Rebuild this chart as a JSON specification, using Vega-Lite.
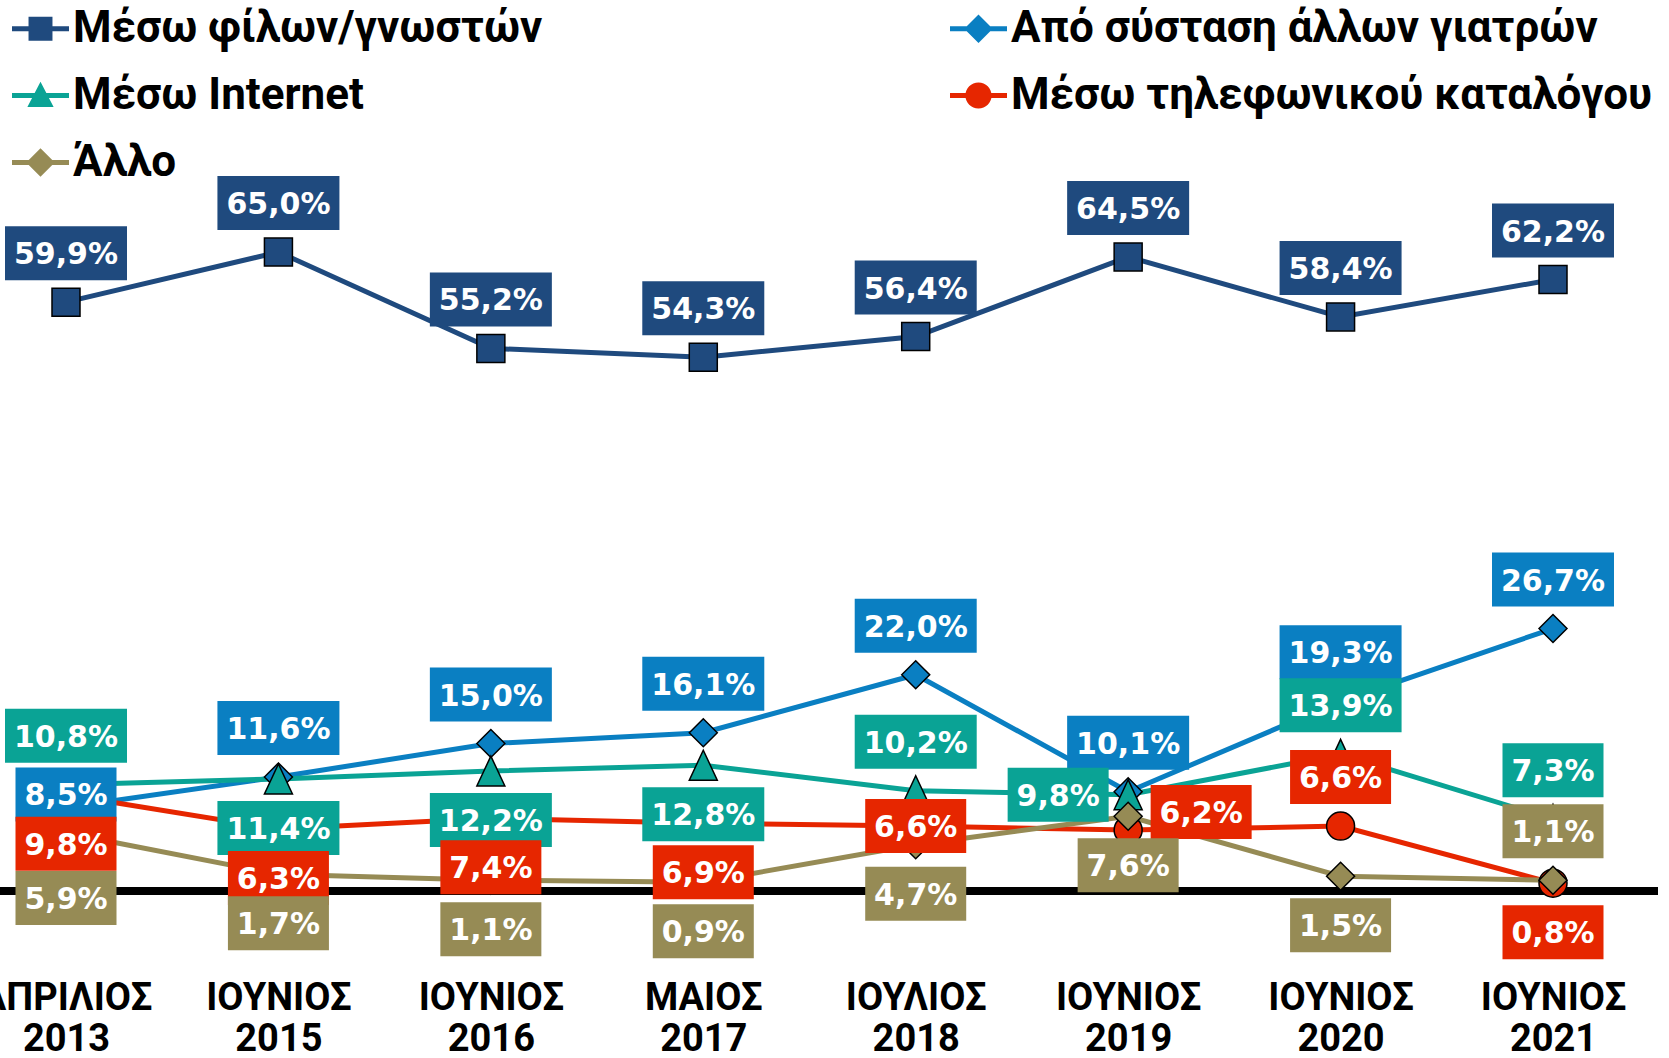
{
  "$schema": "https://vega.github.io/schema/vega-lite/v6.json",
  "autosize": "none",
  "width": 1658,
  "height": 891,
  "padding": {"left": 0, "top": 0, "right": 11, "bottom": 167},
  "background": "white",
  "config": {
    "view": {"stroke": null},
    "locale": {"number": {"decimal": ",", "thousands": ".", "grouping": [3], "currency": ["", " €"]}}
  },
  "data": {
    "values": [
      {"series": "Μέσω φίλων/γνωστών", "period": "ΑΠΡΙΛΙΟΣ 2013", "value": 0.599},
      {"series": "Μέσω φίλων/γνωστών", "period": "ΙΟΥΝΙΟΣ 2015", "value": 0.650},
      {"series": "Μέσω φίλων/γνωστών", "period": "ΙΟΥΝΙΟΣ 2016", "value": 0.552},
      {"series": "Μέσω φίλων/γνωστών", "period": "ΜΑΙΟΣ 2017", "value": 0.543},
      {"series": "Μέσω φίλων/γνωστών", "period": "ΙΟΥΛΙΟΣ 2018", "value": 0.564},
      {"series": "Μέσω φίλων/γνωστών", "period": "ΙΟΥΝΙΟΣ 2019", "value": 0.645},
      {"series": "Μέσω φίλων/γνωστών", "period": "ΙΟΥΝΙΟΣ 2020", "value": 0.584},
      {"series": "Μέσω φίλων/γνωστών", "period": "ΙΟΥΝΙΟΣ 2021", "value": 0.622},
      {"series": "Από σύσταση άλλων γιατρών", "period": "ΑΠΡΙΛΙΟΣ 2013", "value": 0.085},
      {"series": "Από σύσταση άλλων γιατρών", "period": "ΙΟΥΝΙΟΣ 2015", "value": 0.116},
      {"series": "Από σύσταση άλλων γιατρών", "period": "ΙΟΥΝΙΟΣ 2016", "value": 0.150},
      {"series": "Από σύσταση άλλων γιατρών", "period": "ΜΑΙΟΣ 2017", "value": 0.161},
      {"series": "Από σύσταση άλλων γιατρών", "period": "ΙΟΥΛΙΟΣ 2018", "value": 0.220},
      {"series": "Από σύσταση άλλων γιατρών", "period": "ΙΟΥΝΙΟΣ 2019", "value": 0.101},
      {"series": "Από σύσταση άλλων γιατρών", "period": "ΙΟΥΝΙΟΣ 2020", "value": 0.193},
      {"series": "Από σύσταση άλλων γιατρών", "period": "ΙΟΥΝΙΟΣ 2021", "value": 0.267},
      {"series": "Μέσω Internet", "period": "ΑΠΡΙΛΙΟΣ 2013", "value": 0.108},
      {"series": "Μέσω Internet", "period": "ΙΟΥΝΙΟΣ 2015", "value": 0.114},
      {"series": "Μέσω Internet", "period": "ΙΟΥΝΙΟΣ 2016", "value": 0.122},
      {"series": "Μέσω Internet", "period": "ΜΑΙΟΣ 2017", "value": 0.128},
      {"series": "Μέσω Internet", "period": "ΙΟΥΛΙΟΣ 2018", "value": 0.102},
      {"series": "Μέσω Internet", "period": "ΙΟΥΝΙΟΣ 2019", "value": 0.098},
      {"series": "Μέσω Internet", "period": "ΙΟΥΝΙΟΣ 2020", "value": 0.139},
      {"series": "Μέσω Internet", "period": "ΙΟΥΝΙΟΣ 2021", "value": 0.073},
      {"series": "Μέσω τηλεφωνικού καταλόγου", "period": "ΑΠΡΙΛΙΟΣ 2013", "value": 0.098},
      {"series": "Μέσω τηλεφωνικού καταλόγου", "period": "ΙΟΥΝΙΟΣ 2015", "value": 0.063},
      {"series": "Μέσω τηλεφωνικού καταλόγου", "period": "ΙΟΥΝΙΟΣ 2016", "value": 0.074},
      {"series": "Μέσω τηλεφωνικού καταλόγου", "period": "ΜΑΙΟΣ 2017", "value": 0.069},
      {"series": "Μέσω τηλεφωνικού καταλόγου", "period": "ΙΟΥΛΙΟΣ 2018", "value": 0.066},
      {"series": "Μέσω τηλεφωνικού καταλόγου", "period": "ΙΟΥΝΙΟΣ 2019", "value": 0.062},
      {"series": "Μέσω τηλεφωνικού καταλόγου", "period": "ΙΟΥΝΙΟΣ 2020", "value": 0.066},
      {"series": "Μέσω τηλεφωνικού καταλόγου", "period": "ΙΟΥΝΙΟΣ 2021", "value": 0.008},
      {"series": "Άλλο", "period": "ΑΠΡΙΛΙΟΣ 2013", "value": 0.059},
      {"series": "Άλλο", "period": "ΙΟΥΝΙΟΣ 2015", "value": 0.017},
      {"series": "Άλλο", "period": "ΙΟΥΝΙΟΣ 2016", "value": 0.011},
      {"series": "Άλλο", "period": "ΜΑΙΟΣ 2017", "value": 0.009},
      {"series": "Άλλο", "period": "ΙΟΥΛΙΟΣ 2018", "value": 0.047},
      {"series": "Άλλο", "period": "ΙΟΥΝΙΟΣ 2019", "value": 0.076},
      {"series": "Άλλο", "period": "ΙΟΥΝΙΟΣ 2020", "value": 0.015},
      {"series": "Άλλο", "period": "ΙΟΥΝΙΟΣ 2021", "value": 0.011}
    ]
  },
  "layer": [
    {
      "mark": {"type": "rule", "color": "#000000", "strokeWidth": 7},
      "encoding": {
        "y": {"datum": 0, "type": "quantitative", "scale": {"domain": [0, 0.9064], "nice": false, "zero": false}, "axis": null}
      }
    },
    {
      "encoding": {
        "x": {
          "field": "period", "type": "ordinal", "sort": null,
          "scale": {"type": "point", "padding": 0, "domain": ["ΑΠΡΙΛΙΟΣ 2013", "ΙΟΥΝΙΟΣ 2015", "ΙΟΥΝΙΟΣ 2016", "ΜΑΙΟΣ 2017", "ΙΟΥΛΙΟΣ 2018", "ΙΟΥΝΙΟΣ 2019", "ΙΟΥΝΙΟΣ 2020", "ΙΟΥΝΙΟΣ 2021"], "range": [66, 1553]},
          "axis": {
            "title": null, "domain": false, "ticks": false, "tickSize": 0, "grid": false,
            "labelAngle": 0, "labelExpr": "split(datum.label, ' ')",
            "labelFont": "Roboto", "labelFontSize": 38, "labelFontWeight": "bold", "labelColor": "#000000",
            "labelLineHeight": 41, "labelPadding": 88, "labelOverlap": false, "labelBound": false, "labelFlush": false
          }
        },
        "y": {"field": "value", "type": "quantitative", "scale": {"domain": [0, 0.9064], "nice": false, "zero": false}, "axis": null}
      },
      "layer": [
        {
          "mark": {"type": "point", "filled": true, "size": 0, "opacity": 1, "strokeWidth": 0},
          "encoding": {
            "color": {
              "field": "series", "type": "nominal",
              "scale": {"domain": ["Μέσω φίλων/γνωστών", "Από σύσταση άλλων γιατρών", "Μέσω Internet", "Μέσω τηλεφωνικού καταλόγου", "Άλλο"], "range": ["#1F4A7E", "#0A7FC2", "#0AA395", "#E62600", "#968B55"]},
              "legend": {"title": null, "orient": "none", "legendX": 12, "legendY": 0, "direction": "horizontal", "columns": 2, "columnPadding": 407, "rowPadding": 16, "gridAlign": "each", "padding": 0, "labelFont": "Roboto", "labelFontSize": 44, "labelFontWeight": "bold", "labelColor": "#000000", "labelLimit": 1200, "labelOffset": 4, "symbolSize": 3249, "symbolStrokeWidth": 0, "symbolOffset": 0}
            },
            "shape": {
              "field": "series", "type": "nominal",
              "scale": {"domain": ["Μέσω φίλων/γνωστών", "Από σύσταση άλλων γιατρών", "Μέσω Internet", "Μέσω τηλεφωνικού καταλόγου", "Άλλο"], "range": [
                "M-1,-0.09L1,-0.09L1,0.09L-1,0.09ZM-0.42,-0.42L0.42,-0.42L0.42,0.42L-0.42,0.42Z",
                "M-1,-0.09L1,-0.09L1,0.09L-1,0.09ZM0,-0.5L0.5,0L0,0.5L-0.5,0Z",
                "M-1,-0.09L1,-0.09L1,0.09L-1,0.09ZM0,-0.48L0.46,0.4L-0.46,0.4Z",
                "M-1,-0.09L1,-0.09L1,0.09L-1,0.09ZM-0.46,0A0.46,0.46,0,1,1,0.46,0A0.46,0.46,0,1,1,-0.46,0Z",
                "M-1,-0.09L1,-0.09L1,0.09L-1,0.09ZM0,-0.5L0.5,0L0,0.5L-0.5,0Z"
              ]},
              "legend": {"title": null, "orient": "none", "legendX": 12, "legendY": 0, "direction": "horizontal", "columns": 2, "columnPadding": 407, "rowPadding": 16, "gridAlign": "each", "padding": 0, "labelFont": "Roboto", "labelFontSize": 44, "labelFontWeight": "bold", "labelColor": "#000000", "labelLimit": 1200, "labelOffset": 4, "symbolSize": 3249, "symbolStrokeWidth": 0, "symbolOffset": 0}
            }
          }
        },
        {
          "mark": {"type": "line", "strokeWidth": 5},
          "encoding": {
            "color": {"field": "series", "type": "nominal", "scale": {"domain": ["Μέσω φίλων/γνωστών", "Από σύσταση άλλων γιατρών", "Μέσω Internet", "Μέσω τηλεφωνικού καταλόγου", "Άλλο"], "range": ["#1F4A7E", "#0A7FC2", "#0AA395", "#E62600", "#968B55"]}}
          }
        },
        {
          "mark": {"type": "point", "filled": true, "opacity": 1, "stroke": "#000000", "strokeWidth": 1.5, "size": 784},
          "encoding": {
            "color": {"field": "series", "type": "nominal", "scale": {"domain": ["Μέσω φίλων/γνωστών", "Από σύσταση άλλων γιατρών", "Μέσω Internet", "Μέσω τηλεφωνικού καταλόγου", "Άλλο"], "range": ["#1F4A7E", "#0A7FC2", "#0AA395", "#E62600", "#968B55"]}},
            "shape": {"condition": [
              {"test": "datum.series === 'Μέσω φίλων/γνωστών'", "value": "square"},
              {"test": "datum.series === 'Μέσω Internet'", "value": "M0,-1.07L1,1.07L-1,1.07Z"},
              {"test": "datum.series === 'Μέσω τηλεφωνικού καταλόγου'", "value": "circle"}
            ], "value": "diamond"}
          }
        },
        {
          "transform": [{"filter": "datum.series === 'Μέσω φίλων/γνωστών' || (datum.series === 'Από σύσταση άλλων γιατρών' && slice(datum.period, -4) !== '2013') || (datum.series === 'Μέσω Internet' && indexof(['2013','2018','2020','2021'], slice(datum.period, -4)) >= 0) || (datum.series === 'Μέσω τηλεφωνικού καταλόγου' && slice(datum.period, -4) === '2020') || (datum.series === 'Άλλο' && slice(datum.period, -4) === '2021')"}],
          "layer": [
            {
              "mark": {"type": "point", "filled": true, "opacity": 1, "strokeWidth": 0, "yOffset": -49},
              "encoding": {
                "color": {"field": "series", "type": "nominal", "scale": {"domain": ["Μέσω φίλων/γνωστών", "Από σύσταση άλλων γιατρών", "Μέσω Internet", "Μέσω τηλεφωνικού καταλόγου", "Άλλο"], "range": ["#1F4A7E", "#0A7FC2", "#0AA395", "#E62600", "#968B55"]}},
                "size": {"condition": {"test": "datum.value >= 0.0995", "value": 14884}, "value": 10201},
                "shape": {"condition": {"test": "datum.value >= 0.0995", "value": "M-1,-0.4426L1,-0.4426L1,0.4426L-1,0.4426Z"}, "value": "M-1,-0.5347L1,-0.5347L1,0.5347L-1,0.5347Z"}
              }
            },
            {
              "mark": {"type": "text", "font": "DejaVu Sans", "fontSize": 30, "fontWeight": "bold", "color": "#FFFFFF", "align": "center", "baseline": "middle", "yOffset": -49, "dy": 2},
              "encoding": {"text": {"field": "value", "type": "quantitative", "format": ".1%"}}
            }
          ]
        },
        {
          "transform": [{"filter": "datum.series === 'Από σύσταση άλλων γιατρών' && slice(datum.period, -4) === '2013'"}],
          "layer": [
            {
              "mark": {"type": "point", "filled": true, "opacity": 1, "strokeWidth": 0, "yOffset": -13},
              "encoding": {
                "color": {"field": "series", "type": "nominal", "scale": {"domain": ["Μέσω φίλων/γνωστών", "Από σύσταση άλλων γιατρών", "Μέσω Internet", "Μέσω τηλεφωνικού καταλόγου", "Άλλο"], "range": ["#1F4A7E", "#0A7FC2", "#0AA395", "#E62600", "#968B55"]}},
                "size": {"condition": {"test": "datum.value >= 0.0995", "value": 14884}, "value": 10201},
                "shape": {"condition": {"test": "datum.value >= 0.0995", "value": "M-1,-0.4426L1,-0.4426L1,0.4426L-1,0.4426Z"}, "value": "M-1,-0.5347L1,-0.5347L1,0.5347L-1,0.5347Z"}
              }
            },
            {
              "mark": {"type": "text", "font": "DejaVu Sans", "fontSize": 30, "fontWeight": "bold", "color": "#FFFFFF", "align": "center", "baseline": "middle", "yOffset": -13, "dy": 2},
              "encoding": {"text": {"field": "value", "type": "quantitative", "format": ".1%"}}
            }
          ]
        },
        {
          "transform": [{"filter": "datum.series === 'Μέσω τηλεφωνικού καταλόγου' && slice(datum.period, -4) === '2018'"}],
          "layer": [
            {
              "mark": {"type": "point", "filled": true, "opacity": 1, "strokeWidth": 0, "yOffset": 0},
              "encoding": {
                "color": {"field": "series", "type": "nominal", "scale": {"domain": ["Μέσω φίλων/γνωστών", "Από σύσταση άλλων γιατρών", "Μέσω Internet", "Μέσω τηλεφωνικού καταλόγου", "Άλλο"], "range": ["#1F4A7E", "#0A7FC2", "#0AA395", "#E62600", "#968B55"]}},
                "size": {"condition": {"test": "datum.value >= 0.0995", "value": 14884}, "value": 10201},
                "shape": {"condition": {"test": "datum.value >= 0.0995", "value": "M-1,-0.4426L1,-0.4426L1,0.4426L-1,0.4426Z"}, "value": "M-1,-0.5347L1,-0.5347L1,0.5347L-1,0.5347Z"}
              }
            },
            {
              "mark": {"type": "text", "font": "DejaVu Sans", "fontSize": 30, "fontWeight": "bold", "color": "#FFFFFF", "align": "center", "baseline": "middle", "yOffset": 0, "dy": 2},
              "encoding": {"text": {"field": "value", "type": "quantitative", "format": ".1%"}}
            }
          ]
        },
        {
          "transform": [{"filter": "datum.series === 'Μέσω Internet' && slice(datum.period, -4) === '2019'"}],
          "layer": [
            {
              "mark": {"type": "point", "filled": true, "opacity": 1, "strokeWidth": 0, "xOffset": -70, "yOffset": 0},
              "encoding": {
                "color": {"field": "series", "type": "nominal", "scale": {"domain": ["Μέσω φίλων/γνωστών", "Από σύσταση άλλων γιατρών", "Μέσω Internet", "Μέσω τηλεφωνικού καταλόγου", "Άλλο"], "range": ["#1F4A7E", "#0A7FC2", "#0AA395", "#E62600", "#968B55"]}},
                "size": {"condition": {"test": "datum.value >= 0.0995", "value": 14884}, "value": 10201},
                "shape": {"condition": {"test": "datum.value >= 0.0995", "value": "M-1,-0.4426L1,-0.4426L1,0.4426L-1,0.4426Z"}, "value": "M-1,-0.5347L1,-0.5347L1,0.5347L-1,0.5347Z"}
              }
            },
            {
              "mark": {"type": "text", "font": "DejaVu Sans", "fontSize": 30, "fontWeight": "bold", "color": "#FFFFFF", "align": "center", "baseline": "middle", "xOffset": -70, "yOffset": 0, "dy": 2},
              "encoding": {"text": {"field": "value", "type": "quantitative", "format": ".1%"}}
            }
          ]
        },
        {
          "transform": [{"filter": "datum.series === 'Μέσω τηλεφωνικού καταλόγου' && slice(datum.period, -4) === '2019'"}],
          "layer": [
            {
              "mark": {"type": "point", "filled": true, "opacity": 1, "strokeWidth": 0, "xOffset": 73, "yOffset": -18},
              "encoding": {
                "color": {"field": "series", "type": "nominal", "scale": {"domain": ["Μέσω φίλων/γνωστών", "Από σύσταση άλλων γιατρών", "Μέσω Internet", "Μέσω τηλεφωνικού καταλόγου", "Άλλο"], "range": ["#1F4A7E", "#0A7FC2", "#0AA395", "#E62600", "#968B55"]}},
                "size": {"condition": {"test": "datum.value >= 0.0995", "value": 14884}, "value": 10201},
                "shape": {"condition": {"test": "datum.value >= 0.0995", "value": "M-1,-0.4426L1,-0.4426L1,0.4426L-1,0.4426Z"}, "value": "M-1,-0.5347L1,-0.5347L1,0.5347L-1,0.5347Z"}
              }
            },
            {
              "mark": {"type": "text", "font": "DejaVu Sans", "fontSize": 30, "fontWeight": "bold", "color": "#FFFFFF", "align": "center", "baseline": "middle", "xOffset": 73, "yOffset": -18, "dy": 2},
              "encoding": {"text": {"field": "value", "type": "quantitative", "format": ".1%"}}
            }
          ]
        },
        {
          "transform": [{"filter": "datum.series === 'Άλλο' && slice(datum.period, -4) === '2013'"}],
          "layer": [
            {
              "mark": {"type": "point", "filled": true, "opacity": 1, "strokeWidth": 0, "yOffset": 65},
              "encoding": {
                "color": {"field": "series", "type": "nominal", "scale": {"domain": ["Μέσω φίλων/γνωστών", "Από σύσταση άλλων γιατρών", "Μέσω Internet", "Μέσω τηλεφωνικού καταλόγου", "Άλλο"], "range": ["#1F4A7E", "#0A7FC2", "#0AA395", "#E62600", "#968B55"]}},
                "size": {"condition": {"test": "datum.value >= 0.0995", "value": 14884}, "value": 10201},
                "shape": {"condition": {"test": "datum.value >= 0.0995", "value": "M-1,-0.4426L1,-0.4426L1,0.4426L-1,0.4426Z"}, "value": "M-1,-0.5347L1,-0.5347L1,0.5347L-1,0.5347Z"}
              }
            },
            {
              "mark": {"type": "text", "font": "DejaVu Sans", "fontSize": 30, "fontWeight": "bold", "color": "#FFFFFF", "align": "center", "baseline": "middle", "yOffset": 65, "dy": 2},
              "encoding": {"text": {"field": "value", "type": "quantitative", "format": ".1%"}}
            }
          ]
        },
        {
          "transform": [{"filter": "(datum.series === 'Μέσω Internet' && indexof(['2015','2016','2017'], slice(datum.period, -4)) >= 0) || (datum.series === 'Μέσω τηλεφωνικού καταλόγου' && indexof(['2013','2015','2016','2017','2021'], slice(datum.period, -4)) >= 0) || (datum.series === 'Άλλο' && indexof(['2013','2021'], slice(datum.period, -4)) < 0)"}],
          "layer": [
            {
              "mark": {"type": "point", "filled": true, "opacity": 1, "strokeWidth": 0, "yOffset": 49},
              "encoding": {
                "color": {"field": "series", "type": "nominal", "scale": {"domain": ["Μέσω φίλων/γνωστών", "Από σύσταση άλλων γιατρών", "Μέσω Internet", "Μέσω τηλεφωνικού καταλόγου", "Άλλο"], "range": ["#1F4A7E", "#0A7FC2", "#0AA395", "#E62600", "#968B55"]}},
                "size": {"condition": {"test": "datum.value >= 0.0995", "value": 14884}, "value": 10201},
                "shape": {"condition": {"test": "datum.value >= 0.0995", "value": "M-1,-0.4426L1,-0.4426L1,0.4426L-1,0.4426Z"}, "value": "M-1,-0.5347L1,-0.5347L1,0.5347L-1,0.5347Z"}
              }
            },
            {
              "mark": {"type": "text", "font": "DejaVu Sans", "fontSize": 30, "fontWeight": "bold", "color": "#FFFFFF", "align": "center", "baseline": "middle", "yOffset": 49, "dy": 2},
              "encoding": {"text": {"field": "value", "type": "quantitative", "format": ".1%"}}
            }
          ]
        }
      ]
    }
  ]
}
